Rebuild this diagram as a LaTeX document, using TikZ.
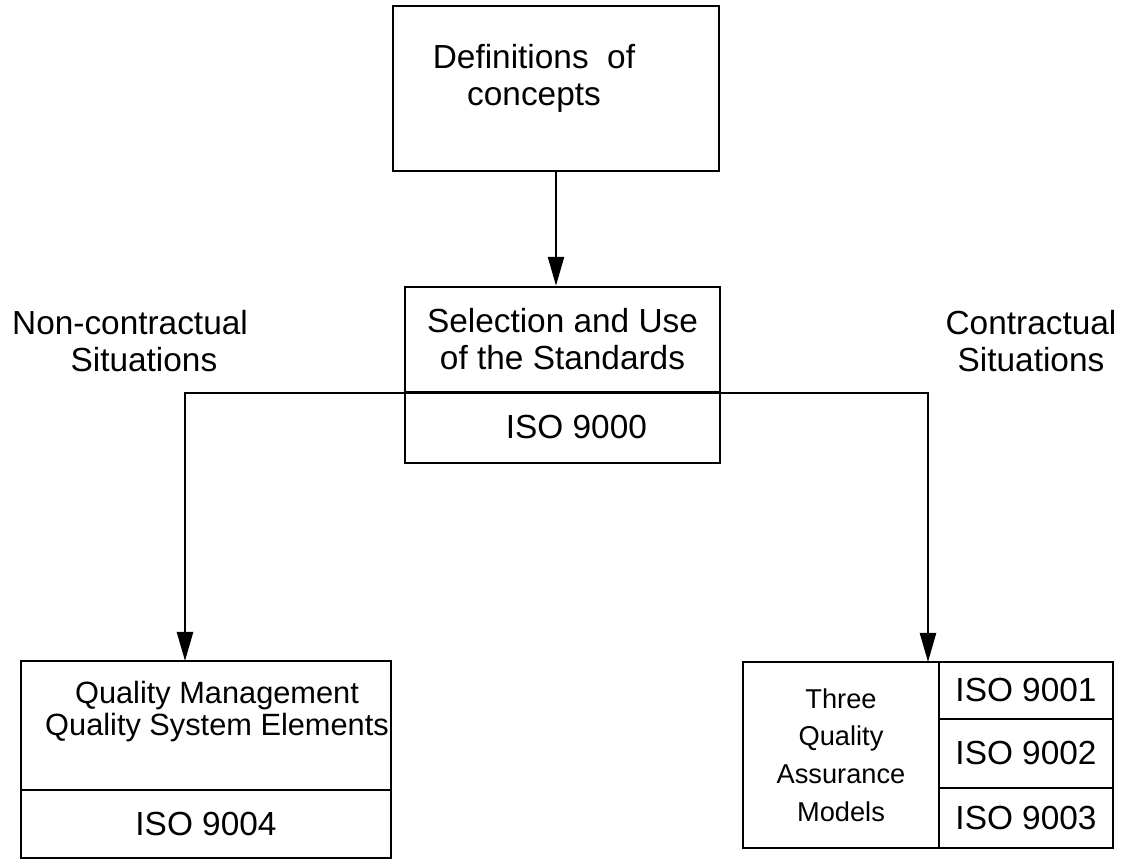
\documentclass[tikz,border=0pt]{standalone}
\usepackage{fontspec}
\setmainfont{Liberation Sans}
\usepackage{tikz}
\usetikzlibrary{arrows.meta}

\begin{document}
\begin{tikzpicture}[
        box/.style={draw, line width=1.4pt, inner sep=0pt, align=center,
                    font=\fontsize{19}{21}\selectfont},
        txt/.style={inner sep=0pt, align=center, font=\fontsize{19}{21}\selectfont},
        arr/.style={-{Triangle[length=0.58cm, width=0.32cm]}, line width=1.4pt},
        arrs/.style={{Triangle[length=0.58cm, width=0.32cm]}-{Triangle[length=0.58cm, width=0.32cm]}, line width=1.4pt}
    ]
        \useasboundingbox (0,0) rectangle (22.62,17.18);
        % top
        \node[box, minimum width=6.52cm, minimum height=3.30cm] (defs) at (11.12,15.41) {};
        \node[txt] (defstext) at (10.68,15.62) {Definitions\ \ of\\concepts};
        % middle
        \node[box, minimum width=6.30cm, minimum height=2.10cm] (sel) at (11.25,10.39) {Selection and Use\\of the Standards};
        \node[box, minimum width=6.30cm, minimum height=1.42cm] (iso0) at (11.25,8.63) {\ \ \ ISO 9000};
        \node[txt] (noncon) at (2.60,10.36) {Non-contractual\\\ \ \ Situations};
        \node[txt] (con) at (20.62,10.36) {Contractual\\Situations};
        % bottom left
        \node[box, minimum width=7.40cm, minimum height=2.58cm] (qm) at (4.12,2.67) {};
        \node[txt, font=\fontsize{17.5}{18.5}\selectfont] (qmtext) at (4.34,2.95) {Quality Management\\Quality System Elements};
        \node[box, minimum width=7.40cm, minimum height=1.36cm] (iso4) at (4.12,0.70) {ISO 9004};
        % bottom right
        \node[box, minimum width=3.92cm, minimum height=3.72cm,
              font=\fontsize{15.5}{21.5}\selectfont] (qa) at (16.82,2.08) {Three\\Quality\\Assurance\\Models};
        \node[box, minimum width=3.48cm, minimum height=1.14cm] (iso1) at (20.52,3.37) {ISO 9001};
        \node[box, minimum width=3.48cm, minimum height=1.38cm] (iso2) at (20.52,2.11) {ISO 9002};
        \node[box, minimum width=3.48cm, minimum height=1.20cm] (iso3) at (20.52,0.82) {ISO 9003};
        \coordinate (qmtop) at (3.70,3.96);
        \coordinate (qatop) at (18.56,3.94);
        \draw[arr] (defs.south) -- (defs.south |- sel.north);
        \draw[arrs] (qmtop) |- (sel.south) -| (qatop);
    \end{tikzpicture}
\end{document}
